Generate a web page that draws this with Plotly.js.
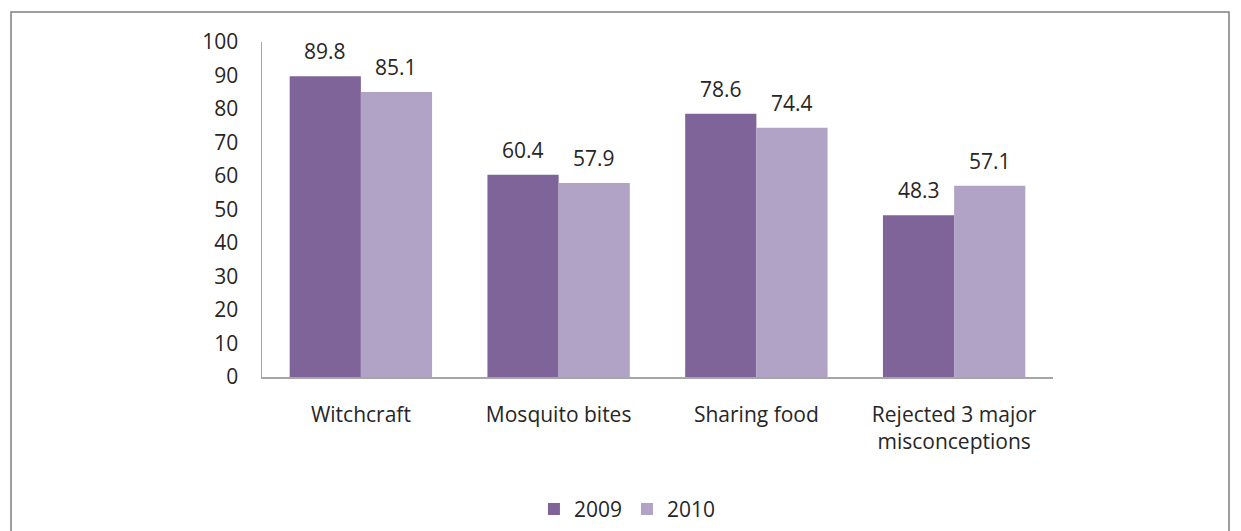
<!DOCTYPE html>
<html><head><meta charset="utf-8">
<script src="https://cdn.plot.ly/plotly-3.0.1.min.js"></script>
<style>html,body{margin:0;padding:0;background:#fff}#chart{width:1241px;height:531px}</style>
</head><body><div id="chart"></div>
<script>
const categories = ["Witchcraft", "Mosquito bites", "Sharing food", "Rejected 3 major<br>misconceptions"];
const series2009 = [89.8, 60.4, 78.6, 48.3];
const series2010 = [85.1, 57.9, 74.4, 57.1];
const yTicks = [0,10,20,30,40,50,60,70,80,90,100];

const c2009 = "#7F6499", c2010 = "#B1A3C6";
const font = {family: "Open Sans, Lato, sans-serif", size: 21, color: "#262626"};

const traces = [
  {type:"bar", name:"2009", x:categories, y:series2009, marker:{color:c2009}},
  {type:"bar", name:"2010", x:categories, y:series2010, marker:{color:c2010}}
];

const annotations = [];
categories.forEach((c,i)=>{
  annotations.push({x:i-0.18, y:series2009[i], xref:"x", yref:"y", text:series2009[i].toFixed(1), showarrow:false, yanchor:"middle", yshift:25, font:font});
  annotations.push({x:i+0.18, y:series2010[i], xref:"x", yref:"y", text:series2010[i].toFixed(1), showarrow:false, yanchor:"middle", yshift:25, font:font});
});

const layout = {
  width:1241, height:531,
  margin:{l:262, r:188, t:42, b:154, autoexpand:false},
  paper_bgcolor:"#fff", plot_bgcolor:"#fff",
  font:font,
  barmode:"group", bargap:0.28, bargroupgap:0,
  xaxis:{type:"category", showline:true, linecolor:"#A6A6A6", linewidth:1.5, showgrid:false, ticks:"", ticklabelstandoff:18, tickfont:font, zeroline:false, automargin:false},
  yaxis:{range:[0,100], tickvals:yTicks, showline:true, linecolor:"#A6A6A6", linewidth:1.5, showgrid:false, ticks:"", ticklabelstandoff:18, tickfont:font, zeroline:false, automargin:false},
  showlegend:true,
  legend:{orientation:"h", x:0.462, xanchor:"center", y:-0.395, yanchor:"middle", font:font, itemwidth:30, traceorder:"normal"},
  annotations:annotations,
  shapes:[
    {type:"rect", xref:"paper", yref:"paper", x0:-0.3173, x1:1.2225, y0:-0.6, y1:1.0896, line:{color:"#7F7F7F", width:1.5}, fillcolor:"rgba(0,0,0,0)", layer:"below"}
  ]
};

Plotly.newPlot("chart", traces, layout, {displayModeBar:false, staticPlot:true});
</script></body></html>
